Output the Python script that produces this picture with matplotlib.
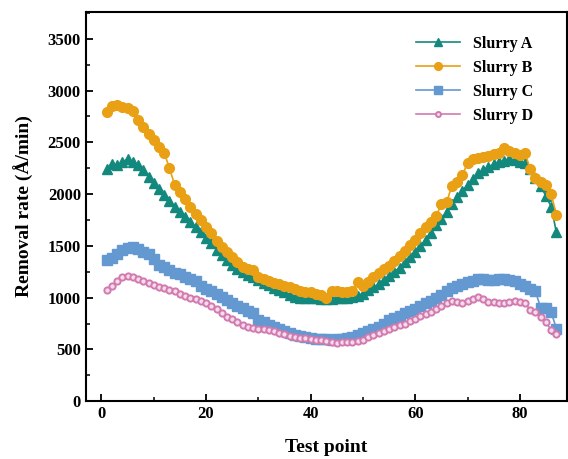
import matplotlib
matplotlib.use("Agg")
import matplotlib.pyplot as plt
from matplotlib.ticker import MultipleLocator

test_point = list(range(1, 88))

slurry_a = [2240, 2290, 2280, 2310, 2340, 2310, 2280, 2230, 2170, 2110,
            2050, 1990, 1930, 1880, 1830, 1780, 1730, 1680, 1630, 1580,
            1530, 1460, 1410, 1360, 1320, 1280, 1250, 1220, 1200, 1170,
            1140, 1120, 1090, 1070, 1050, 1030, 1010, 1000, 1000, 1000,
            995, 990, 990, 990, 995, 1000, 1000, 1010, 1020, 1040,
            1070, 1100, 1130, 1170, 1210, 1250, 1290, 1340, 1390, 1440,
            1500, 1560, 1620, 1700, 1760, 1830, 1900, 1970, 2030, 2090,
            2150, 2200, 2230, 2260, 2290, 2310, 2320, 2340, 2330, 2310,
            2300, 2240, 2160, 2080, 1980, 1880, 1630]

slurry_b = [2790, 2850, 2860, 2840, 2830, 2800, 2720, 2650, 2580, 2520,
            2460, 2400, 2250, 2090, 2020, 1950, 1880, 1810, 1750, 1680,
            1620, 1550, 1490, 1440, 1390, 1340, 1300, 1280, 1270, 1200,
            1180, 1160, 1140, 1130, 1110, 1100, 1080, 1060, 1050, 1050,
            1040, 1030, 1000, 1060, 1060, 1050, 1050, 1060, 1150, 1110,
            1150, 1200, 1240, 1280, 1310, 1350, 1400, 1450, 1510, 1560,
            1620, 1680, 1730, 1790, 1900, 1920, 2080, 2120, 2180, 2300,
            2340, 2350, 2360, 2370, 2390, 2400, 2450, 2420, 2400, 2380,
            2400, 2240, 2160, 2120, 2090, 2000, 1800]

slurry_c = [1360, 1380, 1420, 1460, 1480, 1490, 1470, 1440, 1420, 1370,
            1320, 1300, 1270, 1240, 1230, 1200, 1180, 1160, 1110, 1080,
            1060, 1040, 1010, 980, 950, 920, 900, 870, 850, 780,
            760, 740, 720, 700, 680, 660, 640, 630, 620, 610,
            605, 600, 600, 595, 600, 600, 610, 620, 640, 660,
            680, 700, 720, 750, 780, 800, 820, 850, 870, 890,
            920, 950, 970, 1000, 1030, 1060, 1090, 1110, 1130, 1150,
            1160, 1180, 1180, 1170, 1170, 1180, 1180, 1170, 1160, 1130,
            1110, 1080, 1060, 900, 900, 860, 700]

slurry_d = [1070, 1110, 1160, 1200, 1210, 1200, 1180, 1160, 1140, 1120,
            1100, 1090, 1070, 1060, 1040, 1020, 1000, 990, 970, 950,
            920, 890, 850, 810, 790, 760, 740, 720, 710, 700,
            700, 690, 680, 660, 650, 630, 620, 610, 610, 600,
            590, 590, 580, 570, 560, 570, 570, 570, 580, 590,
            620, 640, 660, 680, 700, 720, 740, 750, 770, 790,
            820, 840, 860, 890, 920, 950, 970, 960, 950, 970,
            990, 1010, 990, 960, 960, 950, 950, 960, 970, 960,
            950, 880, 860, 810, 760, 690, 650]

series_labels = ["Slurry A", "Slurry B", "Slurry C", "Slurry D"]
x_ticks = [0, 20, 40, 60, 80]
y_ticks = [0, 500, 1000, 1500, 2000, 2500, 3000, 3500]

plt.rcParams['font.family'] = ['Liberation Serif', 'DejaVu Serif']
plt.rcParams['font.weight'] = 'bold'

fig = plt.figure(figsize=(5.68, 4.59), dpi=100)
ax = fig.add_axes([0.151, 0.126, 0.847, 0.848])

ax.plot(test_point, slurry_a, color='#13897e', marker='^', ms=7, lw=1.2,
        label=series_labels[0], zorder=3)
ax.plot(test_point, slurry_b, color='#e9a014', marker='o', ms=7, lw=1.2,
        label=series_labels[1], zorder=4)
ax.plot(test_point, slurry_c, color='#6398d0', marker='s', ms=6.5, lw=1.2,
        label=series_labels[2], zorder=2)
ax.plot(test_point, slurry_d, color='#d27ab0', marker='o', ms=4.5, lw=1.2,
        markerfacecolor='#f6dcea', markeredgecolor='#d27ab0', markeredgewidth=1.4,
        label=series_labels[3], zorder=5)

ax.set_xlim(-3, 89)
ax.set_ylim(0, 3760)
ax.set_xticks(x_ticks)
ax.set_yticks(y_ticks)
ax.xaxis.set_minor_locator(MultipleLocator(10))
ax.yaxis.set_minor_locator(MultipleLocator(250))
ax.tick_params(axis='both', which='major', direction='in', length=5, width=1.3,
               labelsize=12, top=False, right=False)
ax.tick_params(axis='both', which='minor', direction='in', length=3, width=1.1,
               top=False, right=False)
for lab in ax.get_xticklabels() + ax.get_yticklabels():
    lab.set_fontweight('bold')
for s in ax.spines.values():
    s.set_linewidth(1.5)

ax.set_xlabel("Test point", fontsize=14, fontweight='bold', labelpad=12)
ax.set_ylabel("Removal rate (Å/min)", fontsize=14, fontweight='bold', labelpad=10)

leg = ax.legend(loc='upper right', bbox_to_anchor=(0.96, 0.975), frameon=False,
                prop={'weight': 'bold', 'size': 11.5}, handlelength=2.8,
                labelspacing=0.5, handletextpad=0.8, markerscale=0.8)

fig.savefig("out.png", dpi=100)
